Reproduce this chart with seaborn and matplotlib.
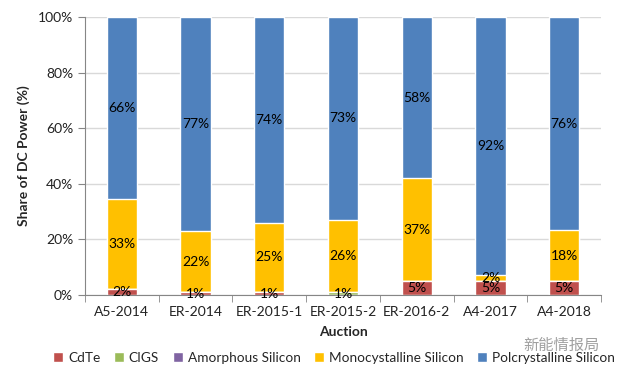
import matplotlib
matplotlib.use("Agg")
import matplotlib.pyplot as plt
import seaborn as sns
import pandas as pd
import numpy as np
from matplotlib.patches import Patch
from matplotlib.ticker import PercentFormatter

auctions = ["A5-2014", "ER-2014", "ER-2015-1", "ER-2015-2", "ER-2016-2", "A4-2017", "A4-2018"]
techs = ["CdTe", "CIGS", "Amorphous Silicon", "Monocystalline Silicon", "Polcrystalline Silicon"]
cdte = [2, 1, 1, 0, 5, 5, 5]
cigs = [0, 0, 0, 1, 0, 0, 0]
amorphous = [0, 0, 0, 0, 0, 0, 0]
mono = [33, 22, 25, 26, 37, 2, 18]
poly = [66, 77, 74, 73, 58, 92, 76]
colors = ["#C0504D", "#9BBB59", "#8064A2", "#FFC000", "#4F81BD"]

sns.set_style("white")
plt.rcParams["font.family"] = ["Lato", "DejaVu Sans"]

vals = np.array([cdte, cigs, amorphous, mono, poly], dtype=float)
shares = vals / vals.sum(axis=0) * 100
cum = shares.cumsum(axis=0)

fig = plt.figure(figsize=(6.19, 3.75), dpi=100)
ax = fig.add_axes([85 / 619, 1 - 295 / 375, 516 / 619, 278 / 375])

# draw cumulative totals from top to bottom so each layer covers the one above
for i in range(len(techs) - 1, -1, -1):
    df = pd.DataFrame({"Auction": auctions, "top": cum[i]})
    sns.barplot(data=df, x="Auction", y="top", color=colors[i], width=0.41,
                saturation=1, ax=ax, zorder=2)

for i in range(len(techs)):
    for j in range(len(auctions)):
        if vals[i, j] > 0:
            mid = cum[i, j] - shares[i, j] / 2
            ax.text(j, mid, f"{int(vals[i, j])}%", ha="center", va="center",
                    fontsize=10, color="black", zorder=5)

ax.set_ylim(0, 100)
ax.set_xlim(-0.5, len(auctions) - 0.5)
ax.set_yticks(range(0, 101, 20))
ax.yaxis.set_major_formatter(PercentFormatter(decimals=0))
ax.yaxis.grid(True, color="#D9D9D9", lw=1, zorder=0)
ax.set_axisbelow(True)
for s in ["top", "right"]:
    ax.spines[s].set_visible(False)
for s in ["left", "bottom"]:
    ax.spines[s].set_color("#868686")
ax.set_xticks(np.arange(-0.5, len(auctions), 1), minor=True)
ax.tick_params(axis="x", which="minor", length=5, color="#868686", bottom=True)
ax.tick_params(axis="x", which="major", length=0, labelsize=10, pad=8, colors="#222222")
ax.tick_params(axis="y", length=5, color="#868686", left=True, labelsize=10, colors="#222222")
ax.set_xlabel("Auction", fontsize=10, fontweight="bold", labelpad=6)
ax.set_ylabel("Share of DC Power (%)", fontsize=10, fontweight="bold", labelpad=6)

handles = [Patch(facecolor=c, label=t) for c, t in zip(colors, techs)]
fig.legend(handles=handles, loc="center", bbox_to_anchor=(334 / 619, 1 - 358 / 375),
           ncol=5, frameon=False, fontsize=9.8, handlelength=0.75, handleheight=0.75,
           handletextpad=0.35, columnspacing=1.0, borderpad=0.2)

fig.text(600 / 619, 1 - 345 / 375, "新能情报局", ha="right", va="center", fontsize=11,
         color="#888888", family=["Noto Sans CJK SC", "DejaVu Sans"], alpha=0.8)

fig.savefig("out.png", dpi=100, facecolor="white")
